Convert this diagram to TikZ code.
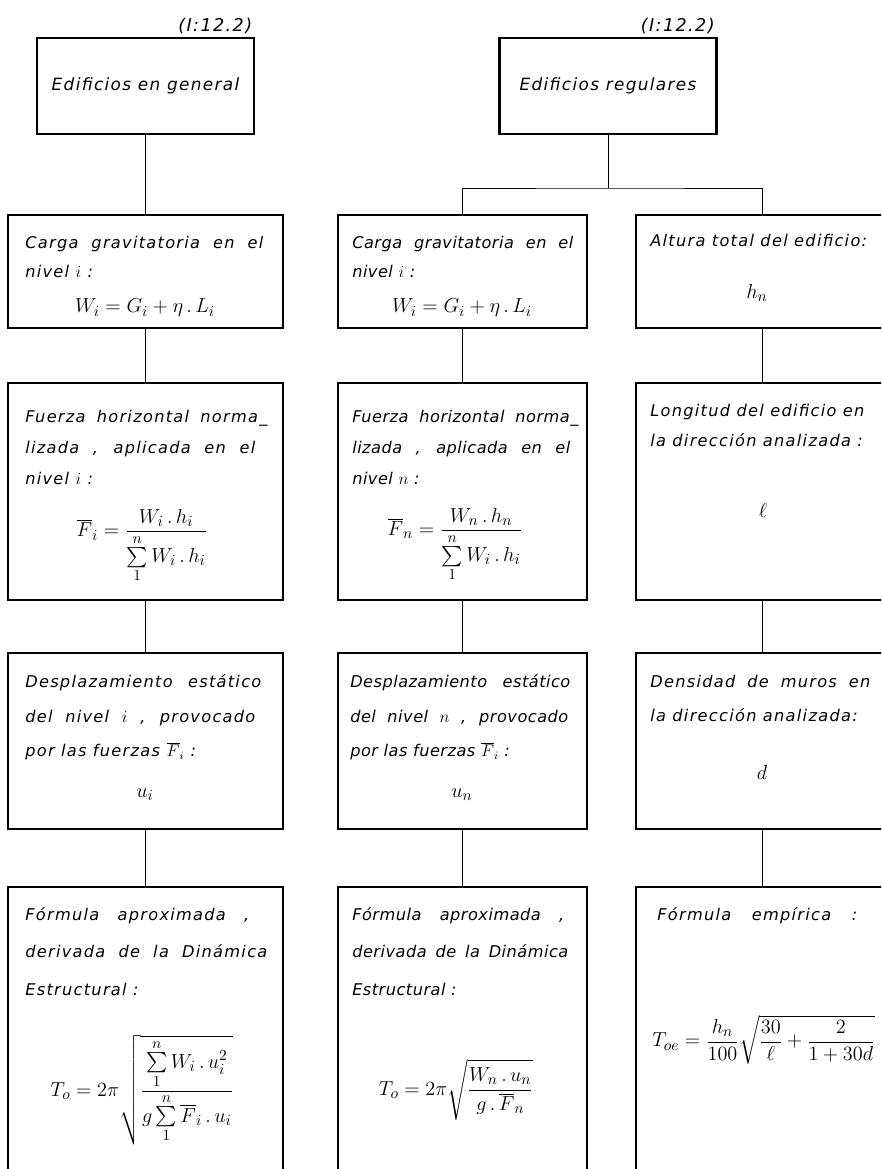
\documentclass[tikz,border=0pt]{standalone}
\usepackage{amsmath}
\usepackage{fontspec}
\setmainfont{DejaVu Sans}[LetterSpace=8]
\newcommand{\jl}[2]{\makebox[#1][s]{#2}}
\begin{document}
\begin{tikzpicture}[x=0.025cm, y=-0.025cm,
    box/.style={draw, line width=1.7pt, inner sep=0pt, font=\fontsize{12}{14}\selectfont\itshape},
    link/.style={line width=0.6pt},
    txt/.style={anchor=north west, align=left, inner sep=0pt, font=\fontsize{11.5}{#1}\selectfont\itshape},
    txttwo/.style={anchor=north west, align=left, inner sep=0pt,
        font=\fontsize{11.5}{#1}\selectfont\itshape\addfontfeature{LetterSpace=3}},
    eq/.style={inner sep=0pt, font=\fontsize{15}{17}\selectfont},
    ref/.style={anchor=south east, inner sep=2pt, font=\fontsize{12.5}{14}\selectfont\itshape}]
        \useasboundingbox (0,0) rectangle (881,1169);
        \clip (0,0) rectangle (881,1169);
        %Edificios
        \node [box, minimum width=5.425cm, minimum height=2.4cm]
        (gen)at(145.5,86){Edificios en general};
        \node [box, minimum width=5.425cm, minimum height=2.4cm]
        (reg)at(608,86){Edificios regulares};
        \node [ref] (genref)at(gen.north east){(I:12.2)};
        \node [ref] (regref)at(reg.north east){(I:12.2)};
        %Column 1
        \node [box, minimum width=6.875cm, minimum height=2.825cm]
        (g1)at(145.5,271.5){};
        \node [box, minimum width=6.875cm, minimum height=5.425cm]
        (f1)at(145.5,491.5){};
        \node [box, minimum width=6.875cm, minimum height=4.4cm]
        (u1)at(145.5,741){};
        \node [box, minimum width=6.875cm, minimum height=7.825cm]
        (t1)at(145.5,1043.5){};
        %Column 2
        \node [box, minimum width=6.225cm, minimum height=2.825cm]
        (g2)at(462.5,271.5){};
        \node [box, minimum width=6.225cm, minimum height=5.425cm]
        (f2)at(462.5,491.5){};
        \node [box, minimum width=6.225cm, minimum height=4.4cm]
        (u2)at(462.5,741){};
        \node [box, minimum width=6.225cm, minimum height=7.825cm]
        (t2)at(462.5,1043.5){};
        %Column 3
        \node [box, minimum width=6.3cm, minimum height=2.825cm]
        (g3)at(762,271.5){};
        \node [box, minimum width=6.3cm, minimum height=5.425cm]
        (f3)at(762,491.5){};
        \node [box, minimum width=6.3cm, minimum height=4.4cm]
        (u3)at(762,741){};
        \node [box, minimum width=6.3cm, minimum height=7.825cm]
        (t3)at(762,1043.5){};

        %Carga gravitatoria
        \node [txt=20.6] (g1a)at(25,236){\jl{5.95cm}{Carga gravitatoria en el}\\ nivel $i$ :};
        \node [eq] (g1b)at(145,308){$W_i = G_i + \eta\,.\,L_i$};
        \node [txttwo=20.6] (g2a)at(352,236){\jl{5.525cm}{Carga gravitatoria en el}\\ nivel $i$ :};
        \node [eq] (g2b)at(462,308){$W_i = G_i + \eta\,.\,L_i$};
        \node [txt=20.6] (g3a)at(650,234){Altura total del edificio:};
        \node [eq] (g3b)at(757,293){$h_n$};
        %Fuerza horizontal
        \node [txt=22] (f1a)at(25,410){\jl{6.05cm}{Fuerza horizontal norma\_}\\
            \jl{5.75cm}{lizada , aplicada en el}\\ nivel $i$ :};
        \node [eq] (f1b)at(142,546){$\overline{F}_i = \dfrac{W_i\,.\,h_i}{\sum\limits_1^n W_i\,.\,h_i}$};
        \node [txttwo=22] (f2a)at(352,410){\jl{5.65cm}{Fuerza horizontal norma\_}\\
            \jl{5.45cm}{lizada , aplicada en el}\\ nivel $n$ :};
        \node [eq] (f2b)at(455,545){$\overline{F}_n = \dfrac{W_n\,.\,h_n}{\sum\limits_1^n W_i\,.\,h_i}$};
        \node [txt=21.3] (f3a)at(650,404){Longitud del edificio en\\
            la dirección analizada :};
        \node [eq] (f3b)at(763,510){$\ell$};
        %Desplazamiento
        \node [txt=24.8] (u1a)at(25,674){\jl{5.9cm}{Desplazamiento estático}\\
            \jl{5.75cm}{del nivel $i$ , provocado}\\ por las fuerzas $\overline{F}_i$ :};
        \node [eq] (u1b)at(145,795){$u_i$};
        \node [txttwo=24.8] (u2a)at(350,674){\jl{5.5cm}{Desplazamiento estático}\\
            \jl{5.45cm}{del nivel $n$ , provocado}\\ por las fuerzas $\overline{F}_i$ :};
        \node [eq] (u2b)at(462,795){$u_n$};
        \node [txt=24.1] (u3a)at(650,675){\jl{5.5cm}{Densidad de muros en}\\
            la dirección analizada:};
        \node [eq] (u3b)at(762,772){$d$};
        %Formulas
        \node [txt=26.6] (t1a)at(25,907){\jl{5.6cm}{Fórmula aproximada ,}\\
            \jl{6.05cm}{derivada de la Dinámica}\\ Estructural :};
        \node [eq] (t1b)at(142,1090){$T_o = 2\pi\sqrt{\dfrac{\sum\limits_1^n W_i\,.\,u_i^2}{g\sum\limits_1^n \overline{F}_i\,.\,u_i}}$};
        \node [txttwo=26.6] (t2a)at(352,907){\jl{5.3cm}{Fórmula aproximada ,}\\
            \jl{5.4cm}{derivada de la Dinámica}\\ Estructural :};
        \node [eq] (t2b)at(456,1090){$T_o = 2\pi\sqrt{\dfrac{W_n\,.\,u_n}{g\,.\,\overline{F}_n}}$};
        \node [txt=26.6] (t3a)at(657,907){\jl{5cm}{Fórmula empírica :}};
        \node [eq, anchor=west] (t3b)at(652,1040){$T_{oe} = \dfrac{h_n}{100}\sqrt{\dfrac{30}{\ell} + \dfrac{2}{1+30d}}$};

        \coordinate (fork)at(608,188);
        \draw [link](gen)--(g1);
        \draw [link](reg)--(fork);
        \draw [link](g2.north)|-(fork)-|(g3.north);
        \draw [link](g1)--(f1);
        \draw [link](f1)--(u1);
        \draw [link](u1)--(t1);
        \draw [link](g2)--(f2);
        \draw [link](f2)--(u2);
        \draw [link](u2)--(t2);
        \draw [link](g3)--(f3);
        \draw [link](f3)--(u3);
        \draw [link](u3)--(t3);

    \end{tikzpicture}
\end{document}
